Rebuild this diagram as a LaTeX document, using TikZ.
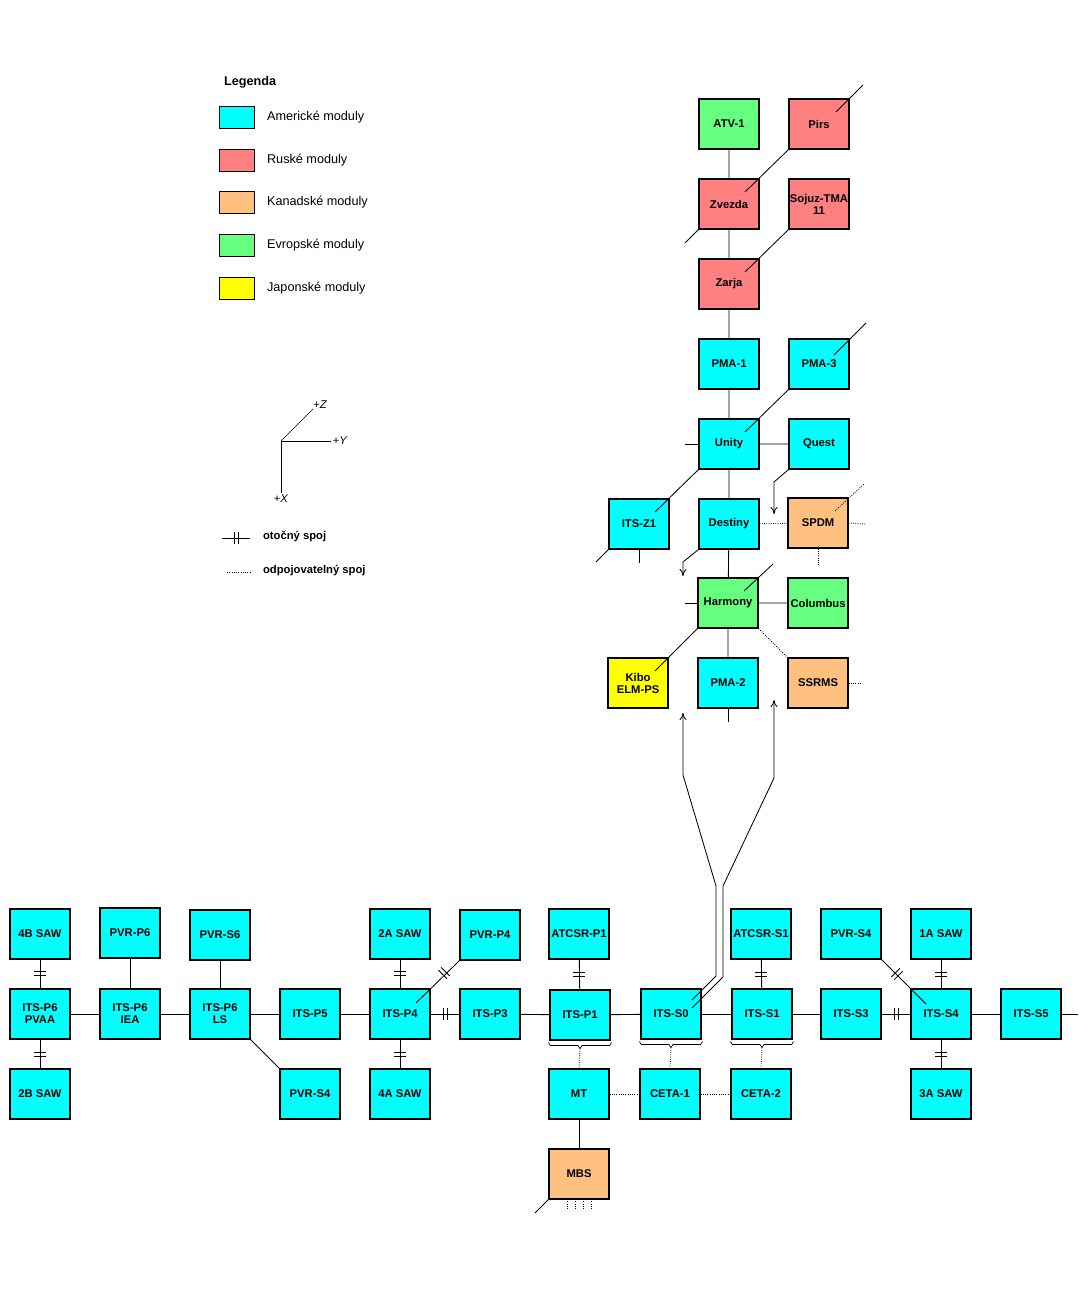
\documentclass[tikz,border=0pt]{standalone}
\usepackage{fontspec}
\setmainfont{Liberation Sans}
\usetikzlibrary{calc,positioning,arrows.meta}
\definecolor{amcol}{HTML}{00FFFF}
\definecolor{rucol}{HTML}{FF8080}
\definecolor{kacol}{HTML}{FFC080}
\definecolor{eucol}{HTML}{66FF80}
\definecolor{jacol}{HTML}{FFFF00}
\tikzset{
  mod/.style={rectangle, draw=black, thick, minimum width=1.5cm, minimum height=1.25cm,
    inner sep=0pt, align=center, font=\fontsize{8}{8.5}\selectfont\bfseries},
  am/.style={mod, fill=amcol},
  ru/.style={mod, fill=rucol},
  ka/.style={mod, fill=kacol},
  eu/.style={mod, fill=eucol},
  ja/.style={mod, fill=jacol},
  swatch/.style={rectangle, draw=black, minimum width=0.875cm, minimum height=0.55cm, inner sep=0pt},
  legtext/.style={anchor=west, font=\fontsize{9}{10}\selectfont},
  odp/.style={densely dotted},
  rotj/.pic={\draw (-2,-6) -- (-2,6) (2,-6) -- (2,6);},
  arr/.style={-{To[length=5pt,width=5pt]}}
}
\begin{document}
\begin{tikzpicture}[x=0.025cm, y=-0.025cm, line width=0.6pt]
\useasboundingbox (0,0) rectangle (1090,1300);

% legenda
\node[anchor=west, font=\fontsize{9}{10}\selectfont\bfseries] (leg) at (219,82) {Legenda};
\node[swatch, fill=amcol] (s1) at (237,117) {};
\node[swatch, fill=rucol] (s2) at (237,160) {};
\node[swatch, fill=kacol] (s3) at (237,202) {};
\node[swatch, fill=eucol] (s4) at (237,245) {};
\node[swatch, fill=jacol] (s5) at (237,288) {};
\node[legtext] at (262,117) {Americké moduly};
\node[legtext] at (262,160) {Ruské moduly};
\node[legtext] at (262,202) {Kanadské moduly};
\node[legtext] at (262,245) {Evropské moduly};
\node[legtext] at (262,288) {Japonské moduly};

% osy
\coordinate (O) at (281,441);
\draw[line width=0.4pt] (O) -- (313,409) node[anchor=south west, inner sep=0pt, font=\fontsize{8}{8}\selectfont] {+\textit{Z}};
\draw (O) -- (331,441) node[anchor=west, inner sep=1pt, font=\fontsize{8}{8}\selectfont] {+\textit{Y}};
\draw (O) -- (281,493) node[anchor=north, inner sep=1pt, font=\fontsize{8}{8}\selectfont] {+\textit{X}};

\coordinate (j1) at (222,538);
\coordinate (j2) at (250,538);
\draw (j1) -- (j2);
\pic at (236,538) {rotj};
\node[legtext, font=\fontsize{8}{9}\selectfont\bfseries] at (258,536) {otočný spoj};
\coordinate (d1) at (227,572);
\coordinate (d2) at (250,572);
\draw[odp] (d1) -- (d2);
\node[legtext, font=\fontsize{8}{9}\selectfont\bfseries] at (258,571) {odpojovatelný spoj};

% horni cast
\node[eu] (atv) at (729,124) {ATV-1};
\node[ru] (pirs) at (819,124) {Pirs};
\node[ru] (zvezda) at (729,204) {Zvezda};
\node[ru] (sojuz) at (819,204) {Sojuz-TMA\\11};
\node[ru] (zarja) at (729,284) {Zarja};
\node[am] (pma1) at (729,364) {PMA-1};
\node[am] (pma3) at (819,364) {PMA-3};
\node[am] (unity) at (729,444) {Unity};
\node[am] (quest) at (819,444) {Quest};
\node[am] (z1) at (639,524) {ITS-Z1};
\node[am] (destiny) at (729,524) {Destiny};
\node[ka] (spdm) at (818,523) {SPDM};
\node[eu] (harmony) at (728,603) {Harmony};
\node[eu] (columbus) at (818,603) {Columbus};
\node[ja] (kibo) at (638,683) {Kibo\\ELM-PS};
\node[am] (pma2) at (728,683) {PMA-2};
\node[ka] (ssrms) at (818,683) {SSRMS};

\draw (atv) -- (zvezda) (zvezda) -- (zarja) (zarja) -- (pma1) (pma1) -- (unity)
      (unity) -- (destiny) (destiny) -- (harmony) (harmony) -- (pma2)
      (unity) -- (quest) (harmony) -- (columbus);
\draw ($(zvezda.center)+(16,-12)$) -- (pirs.south west);
\draw ($(pirs.center)+(17,-12)$) -- (863,85);
\draw (zvezda.south west) -- (685,243);
\draw ($(zarja.center)+(16,-12)$) -- (sojuz.south west);
\draw ($(pma3.center)+(15,-9)$) -- (866,323);
\draw ($(unity.center)+(16,-12)$) -- (pma3.south west);
\draw (unity.west) -- (685,444);
\draw (unity.south west) -- ($(z1.center)+(16,-12)$);
\draw (z1.south west) -- (596,562);
\draw (z1.south) -- (639,563);
\draw[arr] (quest.south west) -- (774,482) -- (774,514);
\draw[arr] (destiny.south west) -- (683,562) -- (683,576);
\draw[odp] (destiny) -- (spdm);
\draw[odp] (spdm.east) -- (866,524);
\draw[odp] (spdm.south) -- (818,565);
\draw[odp] ($(spdm.center)+(17,-12)$) -- (864,484);
\draw (harmony.west) -- (685,603);
\draw ($(harmony.center)+(16,-12)$) -- (773,564);
\draw (harmony.south west) -- ($(kibo.center)+(17,-12)$);
\draw[odp] (harmony.south east) -- (ssrms.north west);
\draw[odp] (ssrms.east) -- (862,683);
\draw (pma2.south) -- (728,722);

% spodni rada
\node[am] (saw4b) at (40,934) {4B SAW};
\node[am] (pvrp6) at (130,933) {PVR-P6};
\node[am] (pvrs6) at (220,935) {PVR-S6};
\node[am] (saw2a) at (400,934) {2A SAW};
\node[am] (pvrp4) at (490,935) {PVR-P4};
\node[am] (atcsrp1) at (579,934) {ATCSR-P1};
\node[am] (atcsrs1) at (761,934) {ATCSR-S1};
\node[am] (pvrs4r) at (851,934) {PVR-S4};
\node[am] (saw1a) at (941,934) {1A SAW};

\node[am] (p6pvaa) at (40,1014) {ITS-P6\\PVAA};
\node[am] (p6iea) at (130,1014) {ITS-P6\\IEA};
\node[am] (p6ls) at (220,1014) {ITS-P6\\LS};
\node[am] (p5) at (310,1014) {ITS-P5};
\node[am] (p4) at (400,1014) {ITS-P4};
\node[am] (p3) at (490,1014) {ITS-P3};
\node[am] (p1) at (580,1015) {ITS-P1};
\node[am] (s0) at (671,1014) {ITS-S0};
\node[am] (s1) at (762,1014) {ITS-S1};
\node[am] (s3) at (851,1014) {ITS-S3};
\node[am] (s4) at (941,1014) {ITS-S4};
\node[am] (s5) at (1031,1014) {ITS-S5};

\node[am] (saw2b) at (40,1094) {2B SAW};
\node[am] (pvrs4) at (310,1094) {PVR-S4};
\node[am] (saw4a) at (400,1094) {4A SAW};
\node[am] (mt) at (579,1094) {MT};
\node[am] (ceta1) at (670,1094) {CETA-1};
\node[am] (ceta2) at (761,1094) {CETA-2};
\node[am] (saw3a) at (941,1094) {3A SAW};
\node[ka] (mbs) at (579,1174) {MBS};

\foreach \a/\b in {p6pvaa/p6iea, p6iea/p6ls, p6ls/p5, p5/p4, p4/p3, p3/p1, p1/s0, s0/s1, s1/s3, s3/s4, s4/s5,
    saw4b/p6pvaa, p6pvaa/saw2b, pvrp6/p6iea, pvrs6/p6ls, saw2a/p4, p4/saw4a,
    atcsrp1/p1, atcsrs1/s1, saw1a/s4, s4/saw3a, mt/mbs}
  \draw (\a) -- (\b);
\draw (s5.east) -- (1078,1014);
\draw (p6ls.south east) -- (pvrs4.north west);
\draw (pvrp4.south west) -- ($(p4.center)+(16,-11)$);
\draw (pvrs4r.south east) -- ($(s4.center)+(-15,-10)$);

% otocne spoje
\foreach \x/\y in {40/973, 40/1054, 400/973, 400/1054, 579/974, 761/974, 941/974, 941/1054}
  \pic[rotate=90] at (\x,\y) {rotj};
\foreach \x/\y in {445/1014, 896/1014}
  \pic at (\x,\y) {rotj};
\pic[rotate=45] at (444,973) {rotj};
\pic[rotate=-45] at (897,974) {rotj};

% konzole pod ITS
\foreach \n in {p1, s0, s1} {
  \draw[line width=0.5pt] ($(\n.south west)+(-1,2)$) -- ++(2,3) -- ($(\n.south)+(-2,5)$) -- ++(2,3) -- ++(2,-3)
        -- ($(\n.south east)+(-1,5)$) -- ++(2,-3);
}
\draw[odp] ($(p1.south)+(0,8)$) -- (mt.north);
\draw[odp] ($(s0.south)+(0,8)$) -- (ceta1.north);
\draw[odp] ($(s1.south)+(0,8)$) -- (ceta2.north);
\draw[odp] (mt) -- (ceta1);
\draw[odp] (ceta1) -- (ceta2);
\draw (mbs.south west) -- (535,1213);
\foreach \x in {567,575,583,591}
  \draw[odp] (\x,1199) -- (\x,1210);

% dvojita vazba S0 -> lab
\draw[arr] ($(s0.center)+(21,-14)$) -- (716,976) -- (716,886) -- (683,775) -- (683,713);
\draw[arr] ($(s0.center)+(21,-6)$) -- (723,977) -- (723,886) -- (774,778) -- (774,700);
\end{tikzpicture}
\end{document}
